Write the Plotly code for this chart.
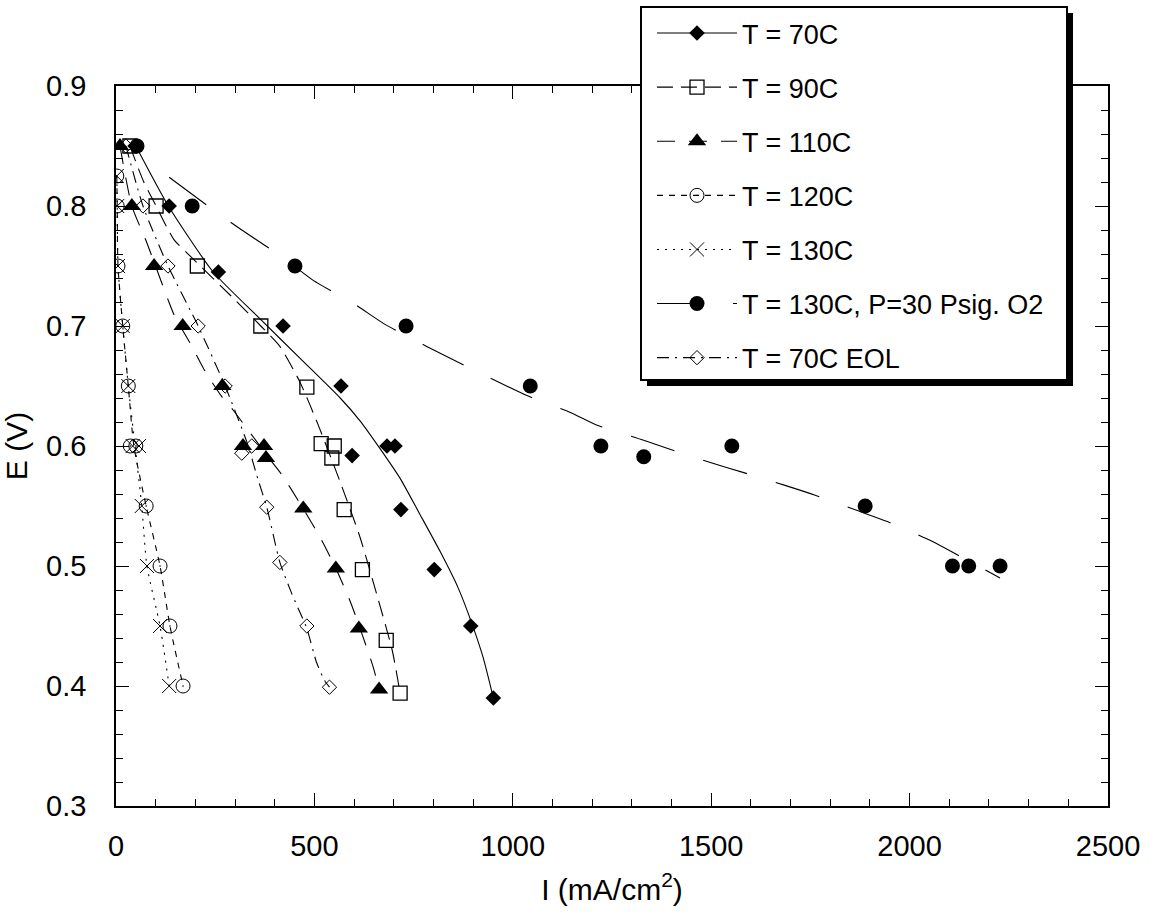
import plotly.graph_objects as go

# ---------------- data ----------------
# T = 70C  (filled diamonds)
t70_x = [48, 134, 258, 421, 567, 683, 703, 595, 718, 802, 894, 951]
t70_y = [0.85, 0.80, 0.745, 0.70, 0.65, 0.60, 0.60, 0.592, 0.547, 0.497, 0.45, 0.39]
t70_fit_x = [50, 132, 245, 363, 464, 565, 615, 665, 716, 766, 817, 862, 897, 925, 951]
t70_fit_y = [0.85, 0.80, 0.745, 0.706, 0.673, 0.640, 0.621, 0.598, 0.573, 0.543, 0.512, 0.482,
             0.452, 0.424, 0.39]

# T = 90C  (open squares)
t90_x = [35, 101, 205, 365, 481, 517, 550, 544, 575, 621, 681, 716]
t90_y = [0.85, 0.80, 0.75, 0.70, 0.649, 0.602, 0.60, 0.59, 0.547, 0.497, 0.438, 0.394]
t90_fit_x = [35, 70, 101, 146, 191, 290, 365, 413, 464, 509, 565, 615, 660, 696, 716]
t90_fit_y = [0.85, 0.82, 0.80, 0.772, 0.757, 0.725, 0.70, 0.683, 0.653, 0.618, 0.57, 0.524,
             0.473, 0.43, 0.394]

# T = 110C  (filled triangles)
t110_x = [10, 40, 96, 168, 268, 320, 373, 378, 472, 554, 612, 663]
t110_y = [0.85, 0.80, 0.75, 0.70, 0.65, 0.60, 0.60, 0.59, 0.548, 0.498, 0.448, 0.397]
t110_fit_x = [10, 40, 77, 131, 148, 188, 225, 267, 295, 383, 418, 464, 516, 554, 592, 648, 663]
t110_fit_y = [0.85, 0.80, 0.77, 0.722, 0.708, 0.685, 0.662, 0.641, 0.63, 0.591, 0.576, 0.552,
              0.523, 0.498, 0.469, 0.416, 0.397]

# T = 120C  (open circles with dot)
t120_x = [2, 3, 5, 17, 31, 36, 50, 76, 111, 136, 169]
t120_y = [0.825, 0.80, 0.75, 0.70, 0.65, 0.60, 0.60, 0.55, 0.50, 0.45, 0.40]
t120_fit_x = [2, 3, 5, 17, 31, 45, 76, 111, 136, 169]
t120_fit_y = [0.825, 0.80, 0.75, 0.70, 0.65, 0.60, 0.55, 0.50, 0.45, 0.40]

# T = 130C  (crosses)
t130_x = [2, 3, 5, 17, 31, 42, 58, 65, 78, 111, 134]
t130_y = [0.825, 0.80, 0.75, 0.70, 0.65, 0.60, 0.60, 0.55, 0.50, 0.45, 0.40]
t130_fit_x = [2, 3, 5, 17, 31, 48, 65, 78, 111, 134]
t130_fit_y = [0.825, 0.80, 0.75, 0.70, 0.65, 0.60, 0.55, 0.50, 0.45, 0.40]

# T = 130C, P = 30 Psig O2  (filled circles)
p30_x = [53, 192, 451, 731, 1044, 1222, 1330, 1552, 1888, 2108, 2149, 2228]
p30_y = [0.85, 0.80, 0.75, 0.70, 0.65, 0.60, 0.591, 0.60, 0.55, 0.50, 0.50, 0.50]
p30_fit_x = [134, 240, 317, 421, 497, 602, 675, 783, 1036, 1145, 1215, 1328, 1398, 1510, 1580,
             1688, 1762, 1870, 1944, 2054, 2122, 2228]
p30_fit_y = [0.824, 0.798, 0.78, 0.757, 0.738, 0.718, 0.702, 0.683, 0.642, 0.628, 0.617, 0.605,
             0.597, 0.585, 0.578, 0.567, 0.559, 0.546, 0.537, 0.521, 0.509, 0.49]

# T = 70C EOL  (open diamonds)
eol_x = [25, 68, 131, 207, 275, 342, 317, 380, 413, 481, 538]
eol_y = [0.85, 0.80, 0.75, 0.70, 0.65, 0.60, 0.594, 0.549, 0.503, 0.45, 0.399]
eol_fit_x = [25, 68, 131, 207, 275, 330, 358, 380, 413, 443, 464, 481, 505, 525, 538]
eol_fit_y = [0.85, 0.80, 0.75, 0.70, 0.65, 0.603, 0.572, 0.549, 0.503, 0.477, 0.461, 0.448,
             0.42, 0.405, 0.399]

names = ["T = 70C", "T = 90C", "T = 110C", "T = 120C", "T = 130C",
         "T = 130C, P=30 Psig. O2", "T = 70C EOL"]

x_ticks = [0, 500, 1000, 1500, 2000, 2500]
y_ticks = [0.3, 0.4, 0.5, 0.6, 0.7, 0.8, 0.9]

# ---------------- styles ----------------
FONT = "Liberation Sans, Arial, sans-serif"
series = [
    (t70_x, t70_y, t70_fit_x, t70_fit_y,
     dict(symbol="diamond", size=12, color="black"), "solid"),
    (t90_x, t90_y, t90_fit_x, t90_fit_y,
     dict(symbol="square-open", size=14, color="black", line=dict(width=1.3, color="black")), "16px,8px"),
    (t110_x, t110_y, t110_fit_x, t110_fit_y,
     dict(symbol="triangle-up", size=16, color="black"), "18px,14px"),
    (t120_x, t120_y, t120_fit_x, t120_fit_y,
     dict(symbol="circle-open-dot", size=14, color="black", line=dict(width=1, color="black")), "6px,6px"),
    (t130_x, t130_y, t130_fit_x, t130_fit_y,
     dict(symbol="x-thin-open", size=14, color="black", line=dict(width=1, color="black")), "2px,6px"),
    (p30_x, p30_y, p30_fit_x, p30_fit_y,
     dict(symbol="circle", size=15, color="black"), "46px,30px"),
    (eol_x, eol_y, eol_fit_x, eol_fit_y,
     dict(symbol="diamond-open", size=11, color="black", line=dict(width=1, color="black")), "12px,6px,2px,6px"),
]

fig = go.Figure()
for i, (sx, sy, fx, fy, mk, dash) in enumerate(series):
    fig.add_trace(go.Scatter(x=fx, y=fy, mode="lines",
                             line=dict(color="black", width=1.1, dash=dash, shape="spline", smoothing=0.6),
                             showlegend=False, hoverinfo="skip"))
    fig.add_trace(go.Scatter(x=sx, y=sy, mode="markers", marker=mk, showlegend=False, name=names[i]))
    fig.add_trace(go.Scatter(x=[None], y=[None], mode="lines+markers", marker=mk,
                             line=dict(color="black", width=1.1, dash=dash),
                             name=names[i], legendgroup="g%d" % i, showlegend=True))

axis_common = dict(
    showline=True, linecolor="black", linewidth=1.6, mirror="allticks",
    ticks="inside", ticklen=13, tickwidth=1.2, tickcolor="black",
    showgrid=False, zeroline=False,
    tickfont=dict(family=FONT, size=29, color="black"),
)

fig.update_xaxes(range=[0, 2500], tickvals=x_ticks, ticktext=[str(v) for v in x_ticks],
                 minor=dict(dtick=100, ticks="inside", ticklen=7, tickcolor="black", tickwidth=1),
                 title=dict(text="I (mA/cm<sup>2</sup>)", font=dict(family=FONT, size=30, color="black"),
                            standoff=18),
                 ticklabelstandoff=13,
                 **axis_common)
fig.update_yaxes(range=[0.3, 0.9], tickvals=y_ticks, ticktext=["%.1f" % v for v in y_ticks],
                 minor=dict(dtick=0.02, ticks="inside", ticklen=7, tickcolor="black", tickwidth=1),
                 title=dict(text="E (V)", font=dict(family=FONT, size=30, color="black"), standoff=10),
                 ticklabelstandoff=22,
                 **axis_common)


def px_x(p):
    return (p - 116) / 992


def px_y(p):
    return (806 - p) / 720


# legend shadow and box (drawn as shapes; the legend itself is transparent)
fig.add_shape(type="rect", xref="paper", yref="paper",
              x0=px_x(647), x1=px_x(1073), y0=px_y(386), y1=px_y(13),
              fillcolor="black", line=dict(width=0), layer="above")
fig.add_shape(type="rect", xref="paper", yref="paper",
              x0=px_x(641), x1=px_x(1067), y0=px_y(380), y1=px_y(7),
              fillcolor="white", line=dict(width=2, color="black"), layer="above")

fig.update_layout(
    width=1150, height=919,
    margin=dict(l=116, r=42, t=86, b=113, autoexpand=False),
    paper_bgcolor="white", plot_bgcolor="white",
    font=dict(family=FONT, color="black"),
    legend=dict(xref="container", yref="container", x=652 / 1150, y=1 - 9 / 919,
                xanchor="left", yanchor="top",
                bgcolor="rgba(0,0,0,0)", borderwidth=0,
                font=dict(family=FONT, size=27, color="black"),
                itemwidth=80, tracegroupgap=16, itemsizing="trace"),
)

fig.write_html("out.html")
